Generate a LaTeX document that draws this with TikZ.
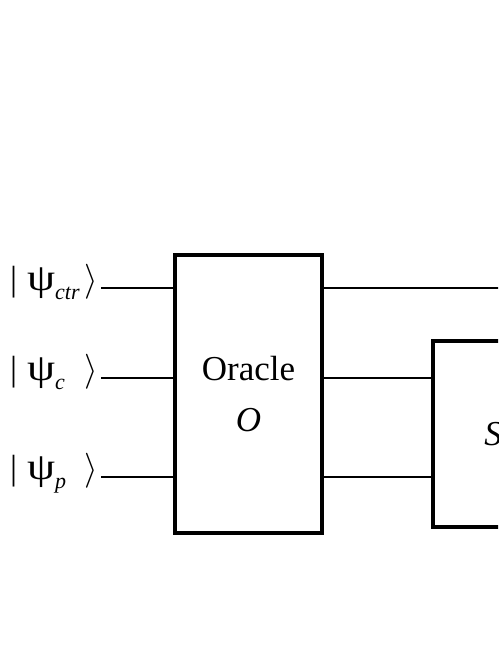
\documentclass[tikz,border=0pt]{standalone}
\usepackage{fix-cm}
\usepackage{fontspec}
\setmainfont{Liberation Serif}
\usetikzlibrary{positioning}

\newcommand{\ketpsi}[1]{|\hspace{10pt}\scalebox{1.28}[1.08]{ψ}\raisebox{-9pt}{\fontsize{22}{22}\selectfont\makebox[29pt][l]{\itshape #1}}$\rangle$}

\begin{document}
\begin{tikzpicture}[x=1pt,y=-1pt,
    every node/.style={font=\fontsize{35}{51}\selectfont},
    gate/.style={draw,line width=3.2pt,fill=white,align=center,inner sep=0pt},
    wire/.style={line width=2.4pt},
    ket/.style={anchor=mid east,inner xsep=3pt,inner ysep=0pt}]

    \clip (0,0) rectangle (498,645);

    \node[gate,minimum width=147pt,minimum height=278pt] (oracle) at (248.5,394) {Oracle\\\textit{O}};
    \node[gate,minimum width=120pt,minimum height=186pt] (shift) at (493,434) {\textit{S}};

    \node[ket] (ctr) at (101,288) {\ketpsi{ctr}};
    \node[ket] (coin) at (101,378) {\ketpsi{c}};
    \node[ket] (pos) at (101,477) {\ketpsi{p}};
    \coordinate (out) at (520,288);

    \draw[wire] (ctr.mid east) -- (oracle.west |- ctr.mid east);
    \draw[wire] (coin.mid east) -- (oracle.west |- coin.mid east);
    \draw[wire] (pos.mid east) -- (oracle.west |- pos.mid east);

    \draw[wire] (oracle.east |- ctr.mid east) -- (out);
    \draw[wire] (oracle.east |- coin.mid east) -- (shift.west |- coin.mid east);
    \draw[wire] (oracle.east |- pos.mid east) -- (shift.west |- pos.mid east);

\end{tikzpicture}
\end{document}
